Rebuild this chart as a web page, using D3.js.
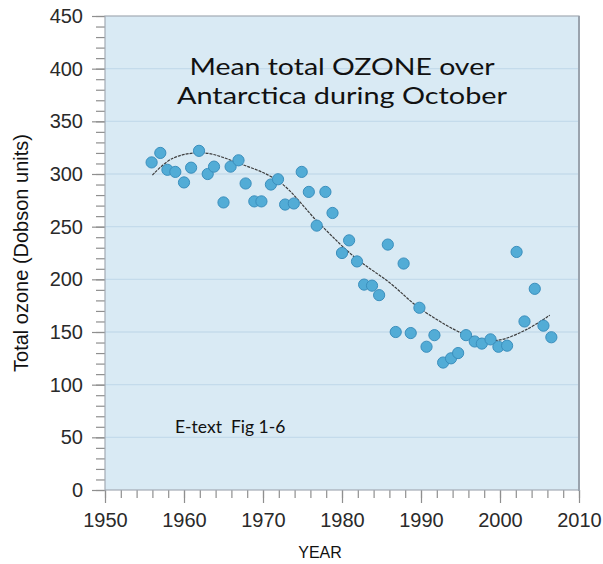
<!DOCTYPE html>
<html><head><meta charset="utf-8">
<script src="https://cdn.jsdelivr.net/npm/d3@7"></script>
<style>
html,body{margin:0;padding:0;background:#fff;}
svg{display:block;}
</style></head>
<body>
<svg id="chart" width="603" height="564"></svg>
<script>
// Observed October mean ozone (year, Dobson units)
const years = [1955.9,1957.0,1957.9,1958.9,1960.0,1960.9,1961.9,1963.0,1963.8,1965.0,1965.9,1966.9,1967.8,1968.9,1969.8,1971.0,1971.9,1972.8,1973.9,1974.9,1975.8,1976.8,1977.9,1978.8,1980.0,1980.9,1981.9,1982.8,1983.8,1984.7,1985.8,1986.8,1987.8,1988.7,1989.8,1990.7,1991.7,1992.8,1993.8,1994.7,1995.7,1996.8,1997.7,1998.8,1999.8,2000.9,2002.1,2003.1,2004.4,2005.5,2006.5];
const ozone = [311,320,304,302,292,306,322,300,307,273,307,313,291,274,274,290,295,271,272,302,283,251,283,263,225,237,217,195,194,185,233,150,215,149,173,136,147,121,125,130,147,141,139,143,136,137,226,160,191,156,145];
// Trend curve
const trendYears = [1956,1958.6,1962.5,1967,1972,1977,1981.6,1986,1989.75,1994.3,1996.2,1999.6,2003.4,2006.3];
const trendVals  = [299,315,320,310,293,254,221,197,173,152,146,142,152.5,166];
const yMajor = [0,50,100,150,200,250,300,350,400,450];
const xMajor = [1950,1960,1970,1980,1990,2000,2010];
const titleLines = ["Mean total OZONE over","Antarctica during October"];

const svg = d3.select("#chart");
const x = d3.scaleLinear().domain([1950,2010]).range([105,579]);
const y = d3.scaleLinear().domain([0,450]).range([490,16]);

// plot background
svg.append("rect").attr("x",105).attr("y",16).attr("width",474).attr("height",474).attr("fill","#d9eaf4");
// gridlines
svg.append("g").selectAll("line").data(yMajor.filter(v=>v>0&&v<450)).join("line")
  .attr("x1",105).attr("x2",579).attr("y1",d=>y(d)).attr("y2",d=>y(d))
  .attr("stroke","#c4dbeb").attr("stroke-width",1.3);

// minor ticks
const yMinor = d3.range(0,451,10);
const xMinor = d3.range(1950,2011,2);
const gyMin = svg.append("g").attr("transform","translate(105,0)")
  .call(d3.axisLeft(y).tickValues(yMinor).tickSize(9).tickFormat(""));
const gxMin = svg.append("g").attr("transform","translate(0,490)")
  .call(d3.axisBottom(x).tickValues(xMinor).tickSize(8).tickFormat(""));
// major ticks
const gy = svg.append("g").attr("transform","translate(105,0)")
  .call(d3.axisLeft(y).tickValues(yMajor).tickSize(13).tickPadding(9).tickFormat(d3.format("d")));
const gx = svg.append("g").attr("transform","translate(0,490)")
  .call(d3.axisBottom(x).tickValues(xMajor).tickSize(13).tickPadding(10).tickFormat(d3.format("d")));
[gyMin,gxMin,gy,gx].forEach(g=>{
  g.select(".domain").remove();
  g.selectAll(".tick line").attr("stroke","#8f8f8f").attr("stroke-width",1.2);
  g.selectAll("text").attr("font-family","'Liberation Sans', Arial, sans-serif").attr("font-size",20).attr("fill","#2a2a2a");
});

// frame
svg.append("rect").attr("x",105).attr("y",16).attr("width",474).attr("height",474)
  .attr("fill","none").attr("stroke","#a3abb4").attr("stroke-width",1.2);
svg.append("line").attr("x1",579).attr("x2",579).attr("y1",16).attr("y2",491)
  .attr("stroke","#9aa3ad").attr("stroke-width",2);

// title
svg.append("g").selectAll("text").data(titleLines).join("text")
  .attr("x",342).attr("y",(d,i)=>74.5+i*29)
  .attr("text-anchor","middle").attr("font-family","Lato, 'Open Sans', sans-serif")
  .attr("font-size",24).attr("fill","#111")
  .attr("textLength",(d,i)=>i===0?305:330).attr("lengthAdjust","spacingAndGlyphs")
  .text(d=>d);

svg.append("text").attr("x",175).attr("y",433)
  .attr("font-family","Lato, 'Open Sans', sans-serif").attr("font-size",17.5).attr("fill","#111")
  .attr("xml:space","preserve").style("white-space","pre")
  .text("E-text  Fig 1-6");

// trend line
const trend = trendYears.map((t,i)=>[t,trendVals[i]]);
svg.append("path").datum(trend)
  .attr("d",d3.line().x(d=>x(d[0])).y(d=>y(d[1])).curve(d3.curveCatmullRom))
  .attr("fill","none").attr("stroke","#3c3c3c").attr("stroke-width",1.2).attr("stroke-dasharray","3,1");

// points
svg.append("g").selectAll("circle").data(years.map((t,i)=>[t,ozone[i]])).join("circle")
  .attr("cx",d=>x(d[0])).attr("cy",d=>y(d[1])).attr("r",5.6)
  .attr("fill","#52acd6").attr("stroke","#3b8fbd").attr("stroke-width",1);

// axis titles
svg.append("text").attr("transform","translate(28,253) rotate(-90)")
  .attr("text-anchor","middle").attr("font-family","'Liberation Sans', Arial, sans-serif")
  .attr("font-size",20).attr("fill","#111").text("Total ozone (Dobson units)");
svg.append("text").attr("x",320).attr("y",558)
  .attr("text-anchor","middle").attr("font-family","'Liberation Sans', Arial, sans-serif")
  .attr("font-size",16).attr("fill","#111").text("YEAR");
</script>
</body></html>
